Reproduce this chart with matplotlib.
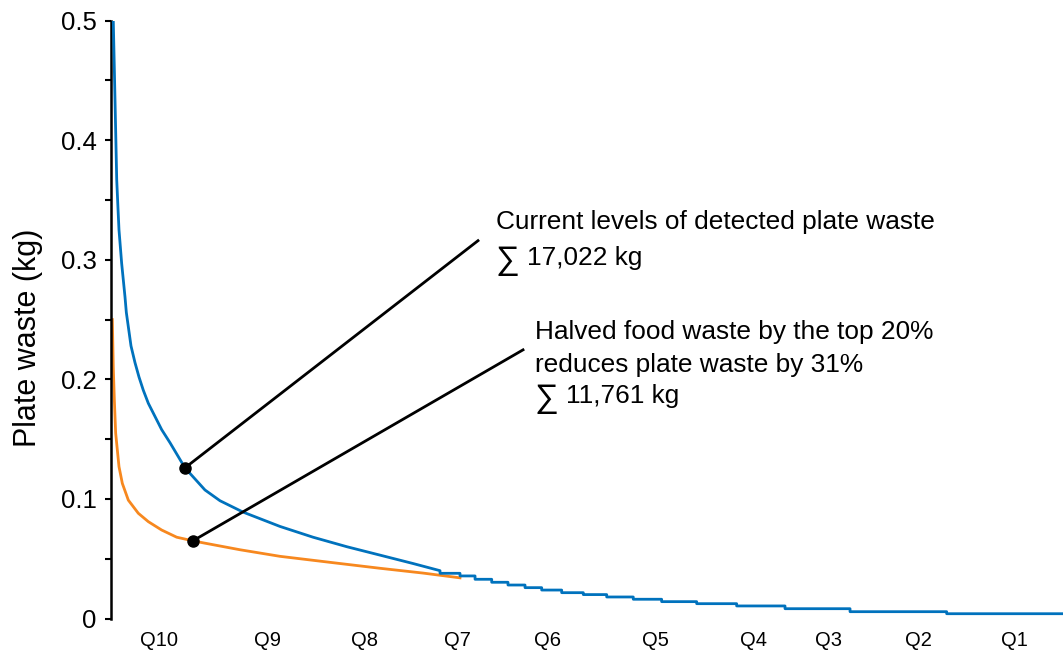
import matplotlib
matplotlib.use("Agg")
import matplotlib.pyplot as plt
import numpy as np

plt.rcParams['font.family'] = ['Liberation Sans', 'DejaVu Sans']

# x: share of plates ranked by waste (%), y: plate waste (kg)
blue_x = [0.24, 0.42, 0.60, 0.74, 0.84, 0.98, 1.12, 1.47, 1.61, 2.10, 2.52, 2.94, 3.39,
          3.92, 4.62, 5.32, 6.20, 7.77, 9.87, 11.45, 13.87, 17.75, 21.22, 24.79,
          28.26, 31.72, 34.56]
blue_y = [0.500, 0.434, 0.367, 0.342, 0.325, 0.311, 0.297, 0.269, 0.256, 0.228, 0.214,
          0.202, 0.191, 0.180, 0.169, 0.158, 0.147, 0.126, 0.1075, 0.0985, 0.089,
          0.077, 0.068, 0.060, 0.053, 0.046, 0.040]

# stepped tail of the current curve: step end positions and levels
tail_edges = [36.66, 38.24, 39.99, 41.70, 43.49, 45.24, 47.34, 49.61, 52.07, 54.86,
              57.84, 61.52, 65.72, 70.80, 77.63, 87.78, 100.0]
tail_levels = [0.0378, 0.0356, 0.0328, 0.0303, 0.0280, 0.0258, 0.0238, 0.0216, 0.0200,
               0.0180, 0.0161, 0.0141, 0.0124, 0.0105, 0.0082, 0.0057, 0.0040]

orange_x = [0.14, 0.24, 0.35, 0.49, 0.84, 1.19, 1.82, 2.87, 3.92, 5.32, 6.90, 8.58,
            9.87, 13.55, 17.75, 22.98, 28.26, 32.77, 36.66]
orange_y = [0.250, 0.210, 0.183, 0.155, 0.127, 0.113, 0.099, 0.088, 0.081, 0.074, 0.068,
            0.065, 0.063, 0.0575, 0.052, 0.047, 0.042, 0.038, 0.034]

q_labels = ['Q10', 'Q9', 'Q8', 'Q7', 'Q6', 'Q5', 'Q4', 'Q3', 'Q2', 'Q1']
q_positions = [5.04, 16.49, 26.58, 36.34, 45.80, 57.14, 67.54, 75.32, 84.77, 94.85]

dot_current = (7.77, 0.126)
dot_halved = (8.61, 0.065)
label_current_anchor = (38.55, 0.316)
label_halved_anchor = (43.28, 0.2247)

blue = '#0072BD'
orange = '#F7881F'

fig = plt.figure(figsize=(10.63, 6.53), dpi=100)
W, H = 1063, 653
ax = fig.add_axes([111 / W, 1 - 618.5 / H, (1063 - 111) / W, (618.5 - 20.7) / H])

# build stepped tail
tx, ty = [], []
start = blue_x[-1]
for e, lv in zip(tail_edges, tail_levels):
    tx += [start, e]
    ty += [lv, lv]
    start = e
bx = blue_x + tx
by = blue_y + ty

ax.plot(bx, by, color=blue, lw=2.0, zorder=3)
ax.plot(orange_x, orange_y, color=orange, lw=2.0, zorder=2)

# annotation lines and dots
ax.plot([dot_current[0], label_current_anchor[0]], [dot_current[1], label_current_anchor[1]],
        color='black', lw=2.0, zorder=4)
ax.plot([dot_halved[0], label_halved_anchor[0]], [dot_halved[1], label_halved_anchor[1]],
        color='black', lw=2.0, zorder=4)
ax.plot(*dot_current, 'o', color='black', ms=8, zorder=5)
ax.plot(*dot_halved, 'o', color='black', ms=8, zorder=5)

fs = 18.9
ax.text(40.44, 0.3257, 'Current levels of detected plate waste', fontsize=fs, va='baseline', ha='left')
ax.text(40.34, 0.2925, '\u2211', fontsize=24, va='baseline', ha='left')
ax.text(43.70, 0.2958, '17,022 kg', fontsize=fs, va='baseline', ha='left')
ax.text(44.54, 0.2336, 'Halved food waste by the top 20%', fontsize=fs, va='baseline', ha='left')
ax.text(44.54, 0.2065, 'reduces plate waste by 31%', fontsize=fs, va='baseline', ha='left')
ax.text(44.44, 0.1767, '\u2211', fontsize=24, va='baseline', ha='left')
ax.text(47.79, 0.1800, '11,761 kg', fontsize=fs, va='baseline', ha='left')

ax.set_xlim(0, 100)
ax.set_ylim(0, 0.5)
ax.set_yticks([0, 0.1, 0.2, 0.3, 0.4, 0.5])
ax.set_yticklabels(['0', '0.1', '0.2', '0.3', '0.4', '0.5'])
ax.set_yticks(np.arange(0.05, 0.5, 0.1), minor=True)
ax.tick_params(axis='y', which='both', direction='out', length=4.5, width=1.5, labelsize=18.5, pad=6)
ax.set_xticks(q_positions)
ax.set_xticklabels(q_labels)
ax.tick_params(axis='x', length=0, labelsize=14.5, pad=9)

for s in ['top', 'right', 'bottom']:
    ax.spines[s].set_visible(False)
ax.spines['left'].set_linewidth(1.8)

ax.set_ylabel('Plate waste (kg)', fontsize=22)
ax.yaxis.set_label_coords(-68 / (1063 - 111), 1 - (338 - 20.7) / (618.5 - 20.7))

fig.savefig('out.png', dpi=100)
